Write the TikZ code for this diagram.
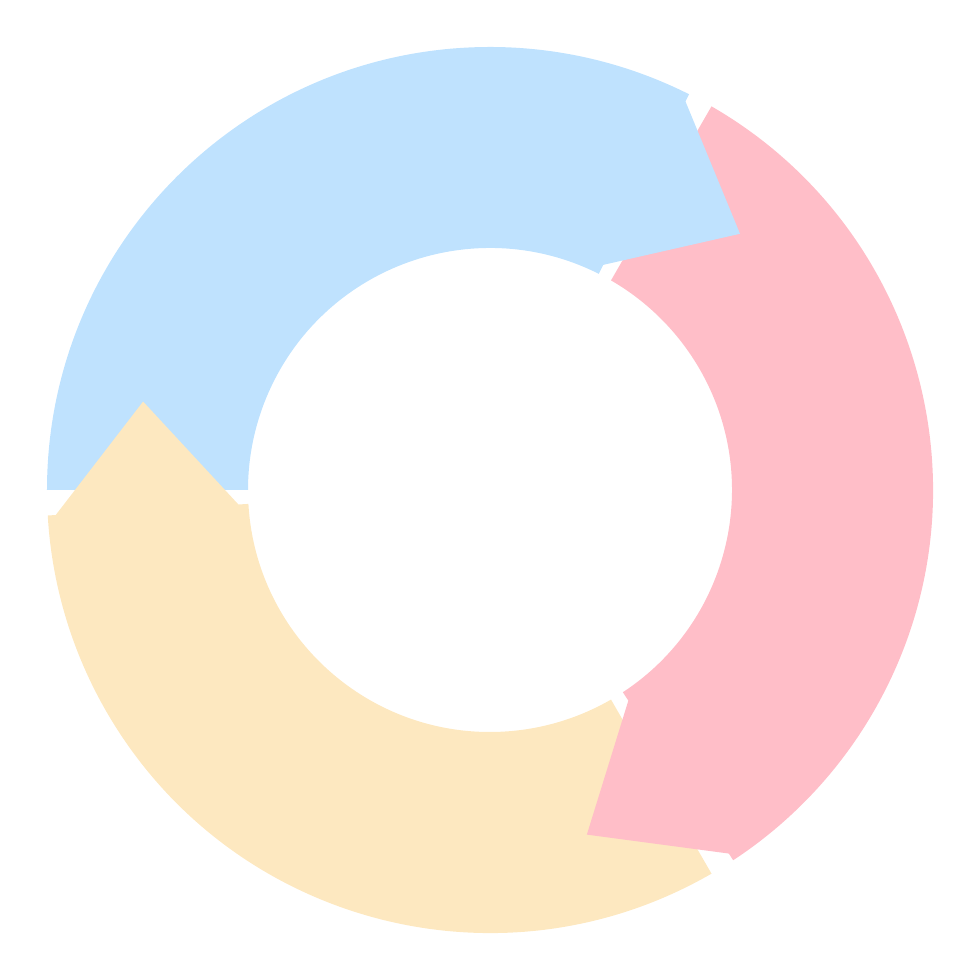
\documentclass[tikz,border=0pt]{standalone}
\usepackage{tikz}

\definecolor{ringblue}{RGB}{191,226,254}
\definecolor{ringpink}{RGB}{255,190,200}
\definecolor{ringyellow}{RGB}{253,232,192}

\begin{document}
\begin{tikzpicture}[scale=.01]
\tikzstyle{every path}=[draw=none]
\tikzstyle{bluepart}=[fill=ringblue]
\tikzstyle{pinkpart}=[fill=ringpink]
\tikzstyle{yellowpart}=[fill=ringyellow]
\useasboundingbox (-490,-490) rectangle (490,490);
% ring bodies
\fill[bluepart] (180:443) arc[start angle=180, end angle=63.3, radius=443] -- (63.3:242) arc[start angle=63.3, end angle=180, radius=242] -- cycle;
\fill[pinkpart] (60:443) arc[start angle=60, end angle=-56.7, radius=443] -- (-56.7:242) arc[start angle=-56.7, end angle=60, radius=242] -- cycle;
\fill[yellowpart] (-60:443) arc[start angle=-60, end angle=-176.7, radius=443] -- (-176.7:242) arc[start angle=-176.7, end angle=-60, radius=242] -- cycle;
% arrow heads
\fill[bluepart] (63.3:435) -- (45.7:358) -- (63.3:252) -- (65.3:252) -- (65.3:435) -- cycle;
\fill[pinkpart] (-56.7:435) -- (-74.3:358) -- (-56.7:252) -- (-54.7:252) -- (-54.7:435) -- cycle;
\fill[yellowpart] (-176.7:435) -- (-194.3:358) -- (-176.7:252) -- (-174.7:252) -- (-174.7:435) -- cycle;
\end{tikzpicture}
\end{document}
